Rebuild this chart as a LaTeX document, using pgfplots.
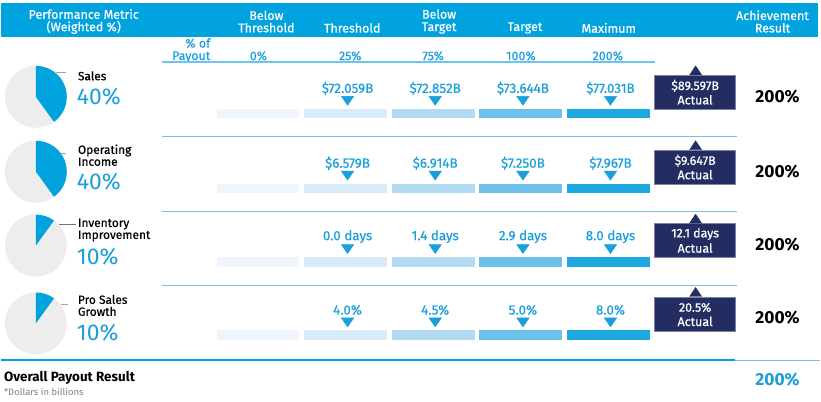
\documentclass[border=0pt]{standalone}
\usepackage{fontspec}
\setmainfont{Fira Sans}
\newfontfamily\medf{Fira Sans}[FakeBold=0.6]
\usepackage{pgfplots}
\pgfplotsset{compat=1.18}
\definecolor{hdr}{HTML}{00A3DD}
\definecolor{vblue}{HTML}{1A9FDB}
\definecolor{navy}{HTML}{232D62}
\definecolor{pgray}{HTML}{EDEDED}
\definecolor{bA}{HTML}{EEF5FC}
\definecolor{bB}{HTML}{D8EBF9}
\definecolor{bC}{HTML}{B3DAF3}
\definecolor{bD}{HTML}{6DC0EA}
\definecolor{bE}{HTML}{1EA8E0}
\definecolor{sep}{HTML}{6CC5EE}
\newcommand{\fs}[1]{\fontsize{#1}{#1}\selectfont}
% one row of the five payout bars (argument: centre line y)
\newcommand{\bars}[1]{%
\addplot[bA, line width=9.5bp] coordinates {(216,#1) (299,#1)};
\addplot[bB, line width=9.5bp] coordinates {(303.8,#1) (386.8,#1)};
\addplot[bC, line width=9.5bp] coordinates {(391.6,#1) (474.6,#1)};
\addplot[bD, line width=9.5bp] coordinates {(479.4,#1) (562.4,#1)};
\addplot[bE, line width=9.5bp] coordinates {(567.2,#1) (650.2,#1)};
}
% row of value labels: y, four labels
\newcommand{\vals}[5]{%
\node[vblue, font=\medf\fs{13.5}] at (axis cs:347.3,#1) {#2};
\node[vblue, font=\medf\fs{13.5}] at (axis cs:435.1,#1) {#3};
\node[vblue, font=\medf\fs{13.5}] at (axis cs:523,#1) {#4};
\node[vblue, font=\medf\fs{13.5}] at (axis cs:610.7,#1) {#5};
}
% actual box: centre y, first-line y, second-line y, value
\newcommand{\actual}[4]{%
\node[fill=navy, draw=navy!60!white, line width=0.6bp, minimum width=81bp, minimum height=34bp, inner sep=0pt] at (axis cs:695.5,#1) {};
\node[text=white, font=\medf\fs{12.5}, inner sep=0pt] at (axis cs:695.5,#2) {#4};
\node[text=white, font=\medf\fs{12.5}, inner sep=0pt] at (axis cs:695.5,#3) {Actual};
}
\newcommand{\ach}[1]{%
\node[black, font=\bfseries\fs{17.5}] at (axis cs:778,#1) {200\%};
}
\newcommand{\pie}[2]{%
\fill[pgray] (axis cs:35,#1) circle[radius=31bp];
\fill[hdr] (axis cs:35,#1) -- ++(90:31bp) arc[start angle=90, end angle={90-3.6*#2}, radius=31bp] -- cycle;
}
\newcommand{\weight}[2]{%
\node[anchor=west, vblue, font=\fs{23}, inner sep=0pt] at (axis cs:76,#1) {#2\%};
}
\begin{document}
\begin{tikzpicture}
\begin{axis}[x=1bp, y=1bp, xmin=0, xmax=821, ymin=0, ymax=402, y dir=reverse,
  axis lines=none, clip=false, scale only axis]
\path (axis cs:0,0) rectangle (axis cs:821,402);
% header band
\fill[hdr] (axis cs:0,3) rectangle (axis cs:819,37);
\node[white, align=center, font=\medf\fs{12.5}] at (axis cs:83,21.5) {Performance Metric\\(Weighted \%)};
\node[white, align=center, font=\medf\fs{12.5}] at (axis cs:266,21.5) {Below\\Threshold};
\node[white, font=\medf\fs{12.5}] at (axis cs:352,28) {Threshold};
\node[white, align=center, font=\medf\fs{12.5}] at (axis cs:439,21.5) {Below\\Target};
\node[white, font=\medf\fs{12.5}] at (axis cs:525,28) {Target};
\node[white, font=\medf\fs{12.5}] at (axis cs:609,28) {Maximum};
\node[white, align=center, font=\medf\fs{12.5}] at (axis cs:773,21.5) {Achievement\\Result};
% payout row
\node[vblue, align=right, font=\medf\fs{12.5}, anchor=east, inner sep=0pt] at (axis cs:210,50.5) {\% of\\Payout};
\node[vblue, font=\medf\fs{12.5}] at (axis cs:258,56) {0\%};
\node[vblue, font=\medf\fs{12.5}] at (axis cs:350,56) {25\%};
\node[vblue, font=\medf\fs{12.5}] at (axis cs:433,56) {75\%};
\node[vblue, font=\medf\fs{12.5}] at (axis cs:521,56) {100\%};
\node[vblue, font=\medf\fs{12.5}] at (axis cs:608,56) {200\%};
% separators
\draw[sep, line width=1.3bp] (axis cs:161,62) -- (axis cs:655,62);
\draw[sep, line width=1.3bp] (axis cs:161,137) -- (axis cs:737,137);
\draw[sep, line width=1.3bp] (axis cs:161,212) -- (axis cs:737,212);
\draw[sep, line width=1.3bp] (axis cs:161,286) -- (axis cs:737,286);
\draw[hdr, line width=1.8bp] (axis cs:0,361) -- (axis cs:735,361);
\draw[sep, line width=1.2bp] (axis cs:735,361) -- (axis cs:821,361);
% bars
\bars{113.75}
\bars{188.75}
\bars{262.25}
\bars{335.75}
% threshold markers
\addplot[only marks, mark=triangle*, vblue, mark size=6bp, mark options={rotate=180, xscale=1.2}] coordinates {
(347.3,99.5) (435.1,99.5) (523,99.5) (610.7,99.5)
(347.3,174.5) (435.1,174.5) (523,174.5) (610.7,174.5)
(347.3,248) (435.1,248) (523,248) (610.7,248)
(347.3,321.5) (435.1,321.5) (523,321.5) (610.7,321.5)};
% actual pointers
\addplot[only marks, mark=triangle*, navy, mark size=6bp, mark options={xscale=1.15}] coordinates {
(696,72) (696,147) (696,220.5) (696,294)};
% values
\vals{88.5}{\$72.059B}{\$72.852B}{\$73.644B}{\$77.031B}
\vals{163.5}{\$6.579B}{\$6.914B}{\$7.250B}{\$7.967B}
\vals{237}{0.0 days}{1.4 days}{2.9 days}{8.0 days}
\vals{310.5}{4.0\%}{4.5\%}{5.0\%}{8.0\%}
% actual boxes and achievement
\actual{92.5}{86}{100}{\$89.597B}
\actual{167.5}{161}{175}{\$9.647B}
\actual{241}{234.5}{248.5}{12.1 days}
\actual{314.5}{308}{322}{20.5\%}
\ach{96.5}
\ach{171.5}
\ach{245}
\ach{318.5}
% pies
\pie{97}{40}
\pie{172}{40}
\pie{246}{10}
\pie{324}{10}
% leader lines
\draw[gray!70, line width=0.8bp] (axis cs:55,73) -- (axis cs:65,73);
\draw[gray!70, line width=0.8bp] (axis cs:60,154) -- (axis cs:65,154);
\draw[gray!90!black, line width=0.8bp] (axis cs:58,225) -- (axis cs:75,225);
\draw[gray!70, line width=0.8bp] (axis cs:60,305) -- (axis cs:67,305);
% metric labels
\node[anchor=west, font=\medf\fs{12}, inner sep=0pt] at (axis cs:77,76) {Sales};
\node[anchor=west, font=\medf\fs{12}, inner sep=0pt, align=left] at (axis cs:77,155.5) {Operating\\Income};
\node[anchor=west, font=\medf\fs{12}, inner sep=0pt, align=left] at (axis cs:77,230.5) {Inventory\\Improvement};
\node[anchor=west, font=\medf\fs{12}, inner sep=0pt, align=left] at (axis cs:77,306) {Pro Sales\\Growth};
\weight{97}{40}
\weight{182}{40}
\weight{257}{10}
\weight{333}{10}
% bottom
\node[anchor=west, inner sep=0pt, font=\bfseries\fs{13.5}] at (axis cs:3,379) {Overall Payout Result};
\node[anchor=west, inner sep=0pt, gray, font=\fs{9.5}] at (axis cs:3,392.5) {*Dollars in billions};
\node[vblue, font=\bfseries\fs{17.5}] at (axis cs:778,380) {200\%};
\end{axis}
\end{tikzpicture}
\end{document}
